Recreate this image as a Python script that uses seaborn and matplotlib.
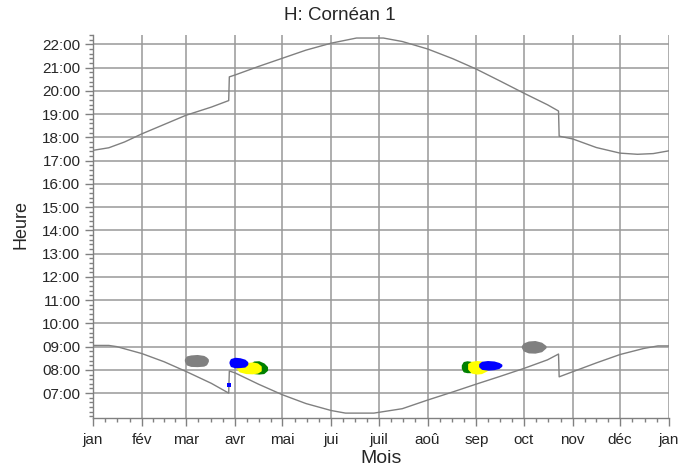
import numpy as np
import pandas as pd
import matplotlib
matplotlib.use("Agg")
import matplotlib.pyplot as plt
import seaborn as sns

sns.set_style("ticks")
plt.rcParams['font.family'] = ['Liberation Sans', 'DejaVu Sans']

# month starts (day of year) and labels
month_days = [0, 31, 59, 90, 120, 151, 181, 212, 243, 273, 304, 334, 365]
month_labels = ["jan", "fév", "mar", "avr", "mai", "jui", "juil", "aoû",
                "sep", "oct", "nov", "déc", "jan"]
hour_ticks = list(range(7, 23))

# sunrise (lower curve), hours
rise_day = [0, 10, 15, 31, 45, 59, 75, 86, 86.4, 90, 105, 120, 135, 151, 160,
            178, 196, 212, 228, 243, 258, 273, 288, 295, 295.4, 304, 319, 334,
            349, 358, 365]
rise_hour = [9.05, 9.05, 9.0, 8.70, 8.35, 7.93, 7.42, 7.0, 7.95, 7.87, 7.38,
             6.93, 6.55, 6.25, 6.14, 6.14, 6.33, 6.70, 7.05, 7.39, 7.72, 8.06,
             8.43, 8.68, 7.70, 7.92, 8.30, 8.66, 8.92, 9.03, 9.03]

# sunset (upper curve), hours
set_day = [0, 10, 20, 31, 45, 59, 75, 86, 86.4, 90, 105, 120, 135, 151, 167,
           184, 196, 212, 228, 243, 258, 273, 288, 295, 295.4, 304, 319, 334,
           345, 355, 365]
set_hour = [17.44, 17.55, 17.80, 18.15, 18.55, 18.95, 19.30, 19.58, 20.60,
            20.68, 21.05, 21.40, 21.75, 22.05, 22.27, 22.27, 22.12, 21.80,
            21.38, 20.93, 20.42, 19.90, 19.40, 19.13, 18.05, 17.93, 17.56,
            17.32, 17.27, 17.30, 17.42]

# glare spots: day, lower hour, upper hour
gray1_day = [58.5, 59.5, 62, 66, 70, 71.5, 72.5]
gray1_lo = [8.40, 8.25, 8.19, 8.18, 8.20, 8.25, 8.38]
gray1_hi = [8.45, 8.56, 8.60, 8.62, 8.58, 8.52, 8.45]

green1_day = [100.5, 102, 105, 108, 110]
green1_lo = [8.00, 7.88, 7.86, 7.88, 8.00]
green1_hi = [8.25, 8.34, 8.35, 8.26, 8.12]

yellow1_day = [91, 93, 97, 101, 104, 106]
yellow1_lo = [8.10, 7.95, 7.88, 7.87, 7.90, 7.98]
yellow1_hi = [8.15, 8.25, 8.27, 8.30, 8.26, 8.15]

blue1_day = [86.8, 87.5, 90, 93, 96, 97.5]
blue1_lo = [8.30, 8.18, 8.13, 8.14, 8.16, 8.25]
blue1_hi = [8.35, 8.45, 8.50, 8.48, 8.42, 8.33]

blue_dot_day = [86.4]
blue_dot_hour = [7.33]

green2_day = [234, 235, 237, 239, 240.5]
green2_lo = [8.08, 7.95, 7.92, 7.92, 7.95]
green2_hi = [8.20, 8.32, 8.35, 8.33, 8.30]

yellow2_day = [238, 240, 243, 246, 249.5]
yellow2_lo = [8.05, 7.90, 7.86, 7.88, 8.00]
yellow2_hi = [8.25, 8.33, 8.36, 8.34, 8.20]

blue2_day = [245, 246.5, 250, 254, 257, 258.5]
blue2_lo = [8.15, 8.06, 8.03, 8.05, 8.10, 8.18]
blue2_hi = [8.25, 8.33, 8.36, 8.34, 8.28, 8.22]

gray2_day = [272, 273, 276, 280, 284, 286.5]
gray2_lo = [8.98, 8.85, 8.77, 8.76, 8.82, 8.97]
gray2_hi = [9.02, 9.12, 9.20, 9.22, 9.15, 9.02]

fig = plt.figure(figsize=(6.96, 4.73), dpi=100)
ax = fig.add_axes([0.1336, 0.1163, 0.8276, 0.8097])

grid_col = "#999999"
for d in month_days[1:]:
    ax.axvline(d, color=grid_col, lw=1.1, zorder=0)
for h in hour_ticks:
    ax.axhline(h, color=grid_col, lw=1.1, zorder=0)

curves = pd.DataFrame({"day": rise_day, "hour": rise_hour})
sns.lineplot(data=curves, x="day", y="hour", sort=False, estimator=None,
             color="#808080", lw=1.0, ax=ax)
curves2 = pd.DataFrame({"day": set_day, "hour": set_hour})
sns.lineplot(data=curves2, x="day", y="hour", sort=False, estimator=None,
             color="#808080", lw=1.0, ax=ax)

spots = [
    (gray1_day, gray1_lo, gray1_hi, "#808080"),
    (gray2_day, gray2_lo, gray2_hi, "#808080"),
    (green1_day, green1_lo, green1_hi, "#008000"),
    (yellow1_day, yellow1_lo, yellow1_hi, "#ffff00"),
    (blue1_day, blue1_lo, blue1_hi, "#0000ff"),
    (green2_day, green2_lo, green2_hi, "#008000"),
    (yellow2_day, yellow2_lo, yellow2_hi, "#ffff00"),
    (blue2_day, blue2_lo, blue2_hi, "#0000ff"),
]
for d, lo, hi, c in spots:
    ax.fill_between(d, lo, hi, color=c, lw=1.4, ec=c, zorder=3)

sns.scatterplot(x=blue_dot_day, y=blue_dot_hour, color="#0000ff", s=5,
                marker="s", linewidth=0, ax=ax, zorder=4)

ax.set_xlim(0, 365)
ax.set_ylim(5.93, 22.4)

ax.set_xticks(month_days)
ax.set_xticklabels(month_labels)
minor_x = []
for a, b in zip(month_days[:-1], month_days[1:]):
    minor_x += [a + (b - a) * k / 4 for k in (1, 2, 3)]
ax.set_xticks(minor_x, minor=True)

ax.set_yticks(hour_ticks)
ax.set_yticklabels([f"{h:02d}:00" for h in hour_ticks])
ax.set_yticks([6 + 0.2 * k for k in range(83)], minor=True)

ax.tick_params(axis="both", which="major", length=6, width=1,
               color="#808080", labelsize=11, pad=3)
ax.tick_params(axis="both", which="minor", length=3, width=1,
               color="#808080")
ax.tick_params(axis="x", pad=5)
ax.set_xlabel("")
ax.set_ylabel("")

for s in ("top", "right"):
    ax.spines[s].set_visible(False)
for s in ("left", "bottom"):
    ax.spines[s].set_color("#808080")
    ax.spines[s].set_linewidth(1.0)

fig.text(340 / 696, 1 - 15 / 473, "H: Cornéan 1", fontsize=13.5,
         ha="center", va="center")
fig.text(381 / 696, 1 - 458 / 473, "Mois", fontsize=14,
         ha="center", va="center")
fig.text(21 / 696, 1 - 224 / 473, "Heure", fontsize=13, rotation=90,
         ha="center", va="center")

fig.savefig("out.png", dpi=100)
